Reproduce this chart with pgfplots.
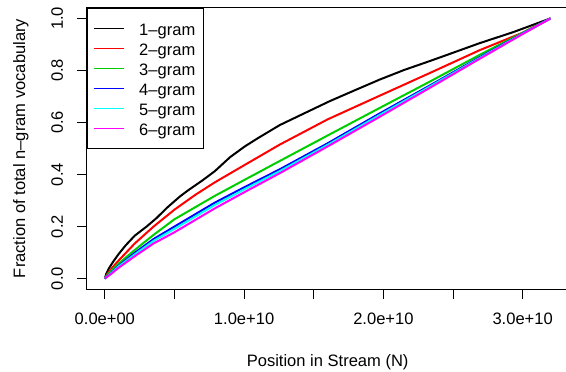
\documentclass[border=0pt]{standalone}
\usepackage{fontspec}
\setmainfont{Liberation Sans}
\usepackage{pgfplots}
\pgfplotsset{compat=1.18}

\definecolor{rred}{RGB}{255,0,0}
\definecolor{rgreen}{RGB}{0,205,0}
\definecolor{rblue}{RGB}{0,0,255}
\definecolor{rcyan}{RGB}{0,255,255}
\definecolor{rmag}{RGB}{255,0,255}
\newcommand{\fs}{\fontsize{12.4}{14}\selectfont}
\pgfplotsset{rleg/.style={draw=#1, legend image code/.code={\path (0pt,3pt); \draw[draw=#1, line width=1.1pt] (0pt,0pt)--(22.5pt,0pt);}}}

\begin{document}
\begin{tikzpicture}
\begin{axis}[
  scale only axis, width=361pt, height=210.75pt,
  xmin=-0.128, xmax=3.328, ymin=-0.04, ymax=1.04,
  axis line style={line width=0.75pt},
  tick pos=left, tick align=outside, major tick length=7.5pt,
  every tick/.style={black, line width=0.75pt},
  xtick={0,0.5,1,1.5,2,2.5,3},
  xticklabels={0.0e+00,,1.0e+10,,2.0e+10,,3.0e+10},
  ytick={0,0.2,0.4,0.6,0.8,1},
  yticklabels={0.0,0.2,0.4,0.6,0.8,1.0},
  tick label style={font=\fs, inner sep=0pt},
  xticklabel style={anchor=north},
  yticklabel style={rotate=90, anchor=south},
  xticklabel shift=10.5pt,
  yticklabel shift=10.3pt,
  xlabel={Position in Stream (N)},
  ylabel={Fraction of total n--gram vocabulary},
  label style={font=\fs, inner sep=0pt},
  xlabel style={at={(axis description cs:0.5,-0.2745)}, anchor=base},
  ylabel style={at={(axis description cs:-0.1288,0.5)}, anchor=base},
  every axis plot/.append style={line width=1.5pt, line join=round},
  legend style={at={(0,1)}, anchor=north west, draw=black, line width=0.75pt,
    fill=white, font=\fs, inner xsep=3.75pt, inner ysep=8.5pt,
    row sep=2pt, column sep=11.25pt,
    nodes={inner sep=0pt, text height=11.75pt, text depth=1.25pt}},
  legend cell align=left,
]
\addplot[rleg=black] coordinates {
(0,0) (0.01,0.018) (0.03,0.04) (0.06,0.065) (0.1,0.095) (0.15,0.128)
(0.215,0.165) (0.3,0.2) (0.37,0.232) (0.45,0.274) (0.54,0.316)
(0.6,0.34) (0.7,0.377) (0.79,0.413) (0.9,0.467) (1.005,0.508)
(1.1,0.54) (1.256,0.59) (1.4,0.627) (1.615,0.682) (1.8,0.725)
(1.974,0.765) (2.15,0.802) (2.333,0.836) (2.5,0.868) (2.692,0.905)
(2.931,0.947) (3.2,1.0)};
\addlegendentry{1--gram\kern2.25pt}
\addplot[rleg=rred] coordinates {
(0,0) (0.02,0.019) (0.05,0.04) (0.1,0.07) (0.215,0.135) (0.35,0.2)
(0.5,0.265) (0.65,0.322) (0.79,0.37) (1.005,0.437) (1.256,0.515)
(1.6,0.612) (1.974,0.703) (2.333,0.79) (2.692,0.878) (3.0,0.945) (3.2,1.0)};
\addlegendentry{2--gram\kern2.25pt}
\addplot[rleg=rgreen] coordinates {
(0,0) (0.02,0.015) (0.05,0.032) (0.1,0.058) (0.215,0.11) (0.35,0.168)
(0.5,0.228) (0.79,0.318) (1.005,0.38) (1.256,0.452) (1.6,0.55)
(1.974,0.656) (2.333,0.757) (2.692,0.86) (3.0,0.945) (3.2,1.0)};
\addlegendentry{3--gram\kern2.25pt}
\addplot[rleg=rblue] coordinates {
(0,0) (0.05,0.025) (0.1,0.05) (0.215,0.099) (0.35,0.152) (0.5,0.2)
(0.79,0.292) (1.005,0.352) (1.256,0.42) (1.6,0.52) (1.974,0.635)
(2.333,0.742) (2.692,0.851) (3.0,0.942) (3.2,1.0)};
\addlegendentry{4--gram\kern2.25pt}
\addplot[rleg=rcyan] coordinates {
(0,0) (0.05,0.023) (0.1,0.047) (0.215,0.093) (0.35,0.145) (0.5,0.191)
(0.79,0.283) (1.005,0.344) (1.256,0.413) (1.6,0.514) (1.974,0.629)
(2.333,0.738) (2.692,0.848) (3.0,0.941) (3.2,1.0)};
\addlegendentry{5--gram\kern2.25pt}
\addplot[rleg=rmag] coordinates {
(0,0) (0.05,0.02) (0.1,0.042) (0.215,0.086) (0.35,0.135) (0.5,0.178)
(0.79,0.27) (1.005,0.333) (1.256,0.405) (1.6,0.508) (1.974,0.622)
(2.333,0.733) (2.692,0.845) (3.0,0.94) (3.2,1.0)};
\addlegendentry{6--gram\kern2.25pt}
\coordinate (BL) at (rel axis cs:0,0);
\coordinate (TL) at (rel axis cs:0,1);
\end{axis}
\pgfresetboundingbox
\useasboundingbox ([xshift=-65.25pt,yshift=-61.5pt]BL) rectangle ([xshift=359.25pt,yshift=6pt]TL);
\end{tikzpicture}
\end{document}
